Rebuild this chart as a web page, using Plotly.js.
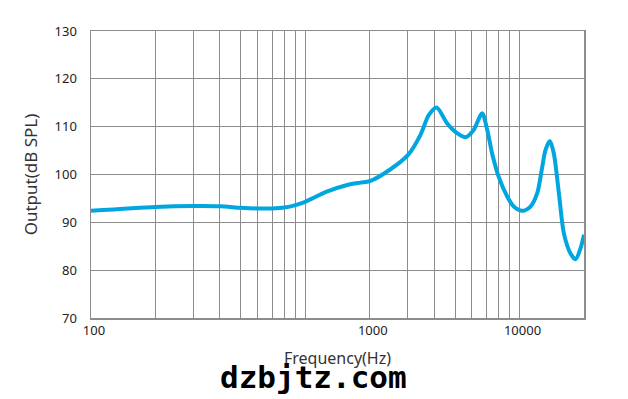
<!DOCTYPE html>
<html>
<head>
<meta charset="utf-8">
<script src="https://cdn.plot.ly/plotly-3.0.1.min.js"></script>
<style>html,body{margin:0;padding:0;background:#fff;}#chart{width:628px;height:399px;}</style>
</head>
<body>
<div id="chart"></div>
<script>
// Frequency response (Hz, dB SPL)
const freqHz = [100, 200, 300, 400, 500, 600, 700, 800, 900, 1000, 1260, 1570, 1810, 2000, 2500, 3020, 3450, 3770, 4100, 4590, 5020, 5600, 6110, 6690, 7070, 7450, 8000, 8760, 9400, 10300, 11250, 12100, 12770, 13220, 13860, 14460, 15270, 16110, 17300, 18270, 19280, 20000];
const outputDb = [92.4, 93.2, 93.4, 93.35, 93.05, 92.9, 92.9, 93.1, 93.6, 94.3, 96.4, 97.8, 98.3, 98.6, 101.1, 104.1, 108.3, 112.4, 114.0, 110.7, 108.9, 107.8, 109.3, 112.8, 109.3, 104.4, 99.5, 95.4, 93.3, 92.4, 93.3, 96.1, 101.6, 105.1, 107.0, 104.4, 96.1, 87.7, 83.5, 82.3, 84.6, 87.4];

// Grid positions and tick labels as they appear on the chart
const gridHz = [100, 200, 300, 400, 500, 600, 700, 800, 900, 1000, 2000, 3000, 4000, 5000, 6000, 7000, 8000, 9000, 10000, 20000];
const gridText = ["100", "", "", "", "", "", "", "", "", "", "1000", "", "", "", "", "", "", "", "10000", ""];
const yTicks = [70, 80, 90, 100, 110, 120, 130];

const trace = {
  x: freqHz, y: outputDb, type: 'scatter', mode: 'lines',
  line: {color: '#00a6df', width: 4, shape: 'spline', smoothing: 0.8},
  hoverinfo: 'skip'
};

const layout = {
  width: 628, height: 399,
  margin: {l: 91, r: 44, t: 31, b: 81},
  paper_bgcolor: '#ffffff', plot_bgcolor: '#ffffff',
  font: {family: '"Noto Sans", "Open Sans", sans-serif', size: 13, color: '#222'},
  showlegend: false,
  xaxis: {
    type: 'log', range: [2, Math.log10(20000)],
    tickmode: 'array', tickvals: gridHz, ticktext: gridText,
    showgrid: true, gridcolor: '#8c8c8c', gridwidth: 1,
    showline: true, linecolor: '#8c8c8c', linewidth: 1.5, mirror: true,
    ticks: '', zeroline: false, ticklabelshift: 3,
    tickfont: {size: 13, color: '#222'},
    title: {text: 'Frequency(Hz)', font: {size: 16, color: '#333'}, standoff: 14}
  },
  yaxis: {
    range: [70, 130], tickmode: 'array', tickvals: yTicks,
    showgrid: true, gridcolor: '#8c8c8c', gridwidth: 1,
    showline: true, linecolor: '#8c8c8c', linewidth: 1.5, mirror: true,
    ticks: '', zeroline: false, ticklabelstandoff: 10,
    tickfont: {size: 13, color: '#222'},
    title: {text: 'Output(dB SPL)', font: {size: 17, color: '#333'}, standoff: 12}
  },
  annotations: [{
    text: '<b>dzbjtz.com</b>', xref: 'paper', yref: 'paper',
    x: (313 - 91) / 493, y: -(377 - 318) / 287, xanchor: 'center', yanchor: 'middle',
    showarrow: false, font: {family: '"DejaVu Sans Mono", monospace', size: 31, color: '#000'}
  }]
};

Plotly.newPlot('chart', [trace], layout, {displayModeBar: false, staticPlot: true});
</script>
</body>
</html>
